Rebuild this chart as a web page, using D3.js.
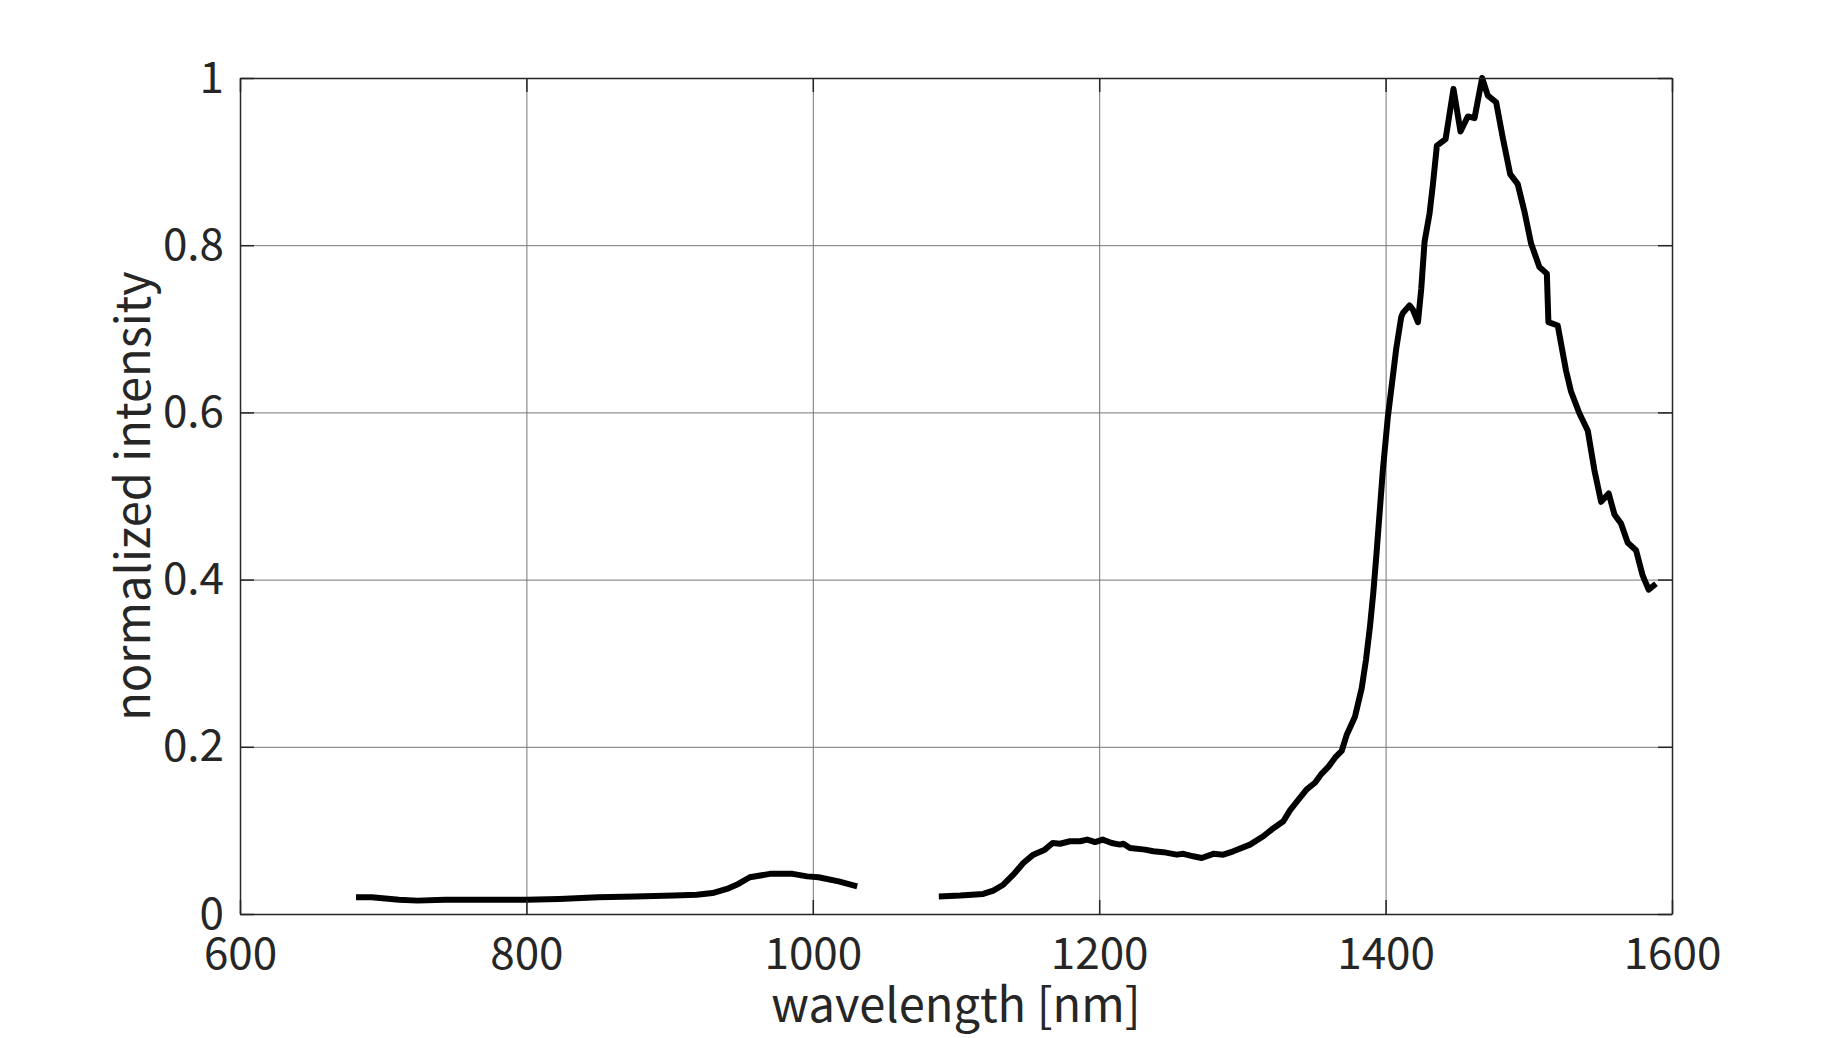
<!DOCTYPE html>
<html>
<head>
<meta charset="utf-8">
<script src="https://cdn.jsdelivr.net/npm/d3@7"></script>
<style>
  html, body { margin: 0; padding: 0; background: #fff; }
  text { font-family: "Noto Sans CJK JP", "Noto Sans", sans-serif; fill: #262626; }
</style>
</head>
<body>
<div id="chart"></div>
<script>
// spectrum, first detector segment
var wlA = [681, 692, 711, 724, 743, 770, 800, 823, 850, 876, 903, 919, 930, 940, 948, 956, 970, 986, 996, 1004, 1018, 1031];
var intA = [0.020, 0.020, 0.017, 0.016, 0.017, 0.017, 0.017, 0.018, 0.020, 0.021, 0.022, 0.023, 0.025, 0.030, 0.036, 0.044, 0.048, 0.048, 0.045, 0.044, 0.039, 0.033];

// second detector segment
var wlB = [1088, 1103, 1119, 1126, 1133, 1140, 1147, 1154, 1162, 1167.5, 1172.6, 1179.6, 1186.6, 1191.7, 1197.1, 1202.4, 1208.7, 1214.5, 1216.9, 1221.5, 1232, 1237.8, 1244.8, 1254.1, 1258.8, 1265.7, 1271.6, 1279.7, 1286.7, 1293.6,
  1305.3, 1314.6, 1320.4, 1328.6, 1333.2, 1337.9, 1344.9, 1350.7, 1355.4, 1360, 1364.7, 1369.3, 1372.8, 1378.6, 1383.3, 1386.3, 1389.1, 1391.4, 1393.6, 1398.1,
  1401.6, 1404.7, 1407.4, 1410.9, 1412.1, 1416.7, 1419, 1422.6, 1424.9, 1427.2, 1430.7, 1433, 1435.8, 1441.9, 1447.4, 1452.3, 1457.4, 1462.1, 1467.4, 1471.4,
  1477.2, 1481.9, 1487, 1492.3, 1497, 1501.6, 1507.4, 1512.6, 1513.7, 1520.2, 1526, 1529.5, 1535.3, 1541.2, 1545.8, 1550.5, 1555.8, 1559.8, 1564.4, 1569.1,
  1574.9, 1579.5, 1583.7, 1588.8];
var intB = [0.021, 0.022, 0.024, 0.028, 0.035, 0.047, 0.061, 0.071, 0.077, 0.085, 0.084, 0.087, 0.087, 0.089, 0.086, 0.089, 0.085, 0.083, 0.084, 0.079, 0.077, 0.075, 0.074, 0.071, 0.072, 0.069, 0.067, 0.072, 0.071, 0.075,
  0.083, 0.093, 0.101, 0.111, 0.124, 0.134, 0.149, 0.157, 0.168, 0.176, 0.187, 0.195, 0.214, 0.236, 0.270, 0.304, 0.344, 0.384, 0.430, 0.531,
  0.595, 0.638, 0.676, 0.714, 0.719, 0.728, 0.723, 0.708, 0.748, 0.804, 0.838, 0.872, 0.919, 0.927, 0.987, 0.936, 0.954, 0.952, 1.000, 0.979,
  0.971, 0.928, 0.885, 0.873, 0.840, 0.802, 0.774, 0.766, 0.708, 0.704, 0.650, 0.625, 0.599, 0.578, 0.531, 0.493, 0.503, 0.478, 0.467, 0.444,
  0.435, 0.405, 0.388, 0.395];

var xTicks = [600, 800, 1000, 1200, 1400, 1600];
var yTicks = [0, 0.2, 0.4, 0.6, 0.8, 1];
var xLabel = 'wavelength [nm]';
var yLabel = 'normalized intensity';

var W = 1846, H = 1038;
var margin = { top: 78, right: 174, bottom: 124, left: 240 };
var width = W - margin.left - margin.right;
var height = H - margin.top - margin.bottom;

var x = d3.scaleLinear().domain([600, 1600]).range([0, width]);
var y = d3.scaleLinear().domain([0, 1]).range([height, 0]);

var svg = d3.select('#chart')
  .append('svg')
  .attr('width', W)
  .attr('height', H)
  .style('background', '#fff');

var g = svg.append('g')
  .attr('transform', 'translate(' + margin.left + ',' + margin.top + ')');

// grid
g.append('g')
  .attr('class', 'grid')
  .attr('transform', 'translate(0,' + height + ')')
  .call(d3.axisBottom(x).tickValues(xTicks).tickSize(-height).tickFormat(''))
  .call(function(s) { s.select('.domain').remove(); });
g.append('g')
  .attr('class', 'grid')
  .call(d3.axisLeft(y).tickValues(yTicks).tickSize(-width).tickFormat(''))
  .call(function(s) { s.select('.domain').remove(); });
g.selectAll('.grid line').attr('stroke', '#767676').attr('stroke-width', 1);

// spectrum line
var line = d3.line()
  .x(function(d) { return x(d[0]); })
  .y(function(d) { return y(d[1]); });

[d3.zip(wlA, intA), d3.zip(wlB, intB)].forEach(function(seg) {
  g.append('path')
    .datum(seg)
    .attr('fill', 'none')
    .attr('stroke', '#000')
    .attr('stroke-width', 6)
    .attr('stroke-linejoin', 'round')
    .attr('d', line);
});

// axes with inward ticks
var tick = 14;
var fmt = d3.format('~g');
var xAx = g.append('g')
  .attr('transform', 'translate(0,' + height + ')')
  .call(d3.axisBottom(x).tickValues(xTicks).tickSizeInner(-tick).tickSizeOuter(0).tickPadding(24).tickFormat(fmt));
var yAx = g.append('g')
  .call(d3.axisLeft(y).tickValues(yTicks).tickSizeInner(-tick).tickSizeOuter(0).tickPadding(16).tickFormat(fmt));
g.append('g')
  .call(d3.axisTop(x).tickValues(xTicks).tickSizeInner(-tick).tickSizeOuter(0).tickFormat(''));
g.append('g')
  .attr('transform', 'translate(' + width + ',0)')
  .call(d3.axisRight(y).tickValues(yTicks).tickSizeInner(-tick).tickSizeOuter(0).tickFormat(''));

g.selectAll('.domain').attr('stroke', '#262626').attr('stroke-width', 1.5);
g.selectAll('.tick line').filter(function() { return !this.closest('.grid'); })
  .attr('stroke', '#262626').attr('stroke-width', 1.5);
xAx.selectAll('text').attr('font-size', 44).attr('fill', '#262626')
  .style('font-family', '"Noto Sans CJK JP", sans-serif');
yAx.selectAll('text').attr('font-size', 44).attr('fill', '#262626')
  .style('font-family', '"Noto Sans CJK JP", sans-serif');

// labels
svg.append('text')
  .attr('x', margin.left + width / 2)
  .attr('y', 1022)
  .attr('text-anchor', 'middle')
  .attr('font-size', 47)
  .text(xLabel);

svg.append('text')
  .attr('transform', 'translate(150,' + (margin.top + height / 2) + ') rotate(-90)')
  .attr('text-anchor', 'middle')
  .attr('font-size', 47)
  .text(yLabel);
</script>
</body>
</html>
